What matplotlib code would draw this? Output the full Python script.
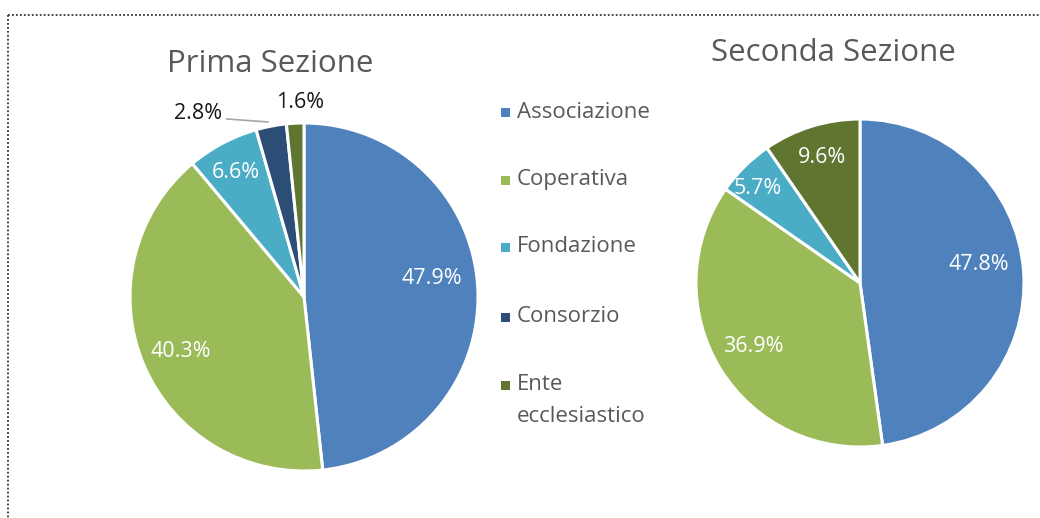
import matplotlib
matplotlib.use("Agg")
import matplotlib.pyplot as plt
from matplotlib.patches import Rectangle
from matplotlib.lines import Line2D
import textwrap

plt.rcParams['font.family'] = ['Open Sans', 'DejaVu Sans']

# ---- data ----
categories = ["Associazione", "Coperativa", "Fondazione", "Consorzio", "Ente ecclesiastico"]
prima_values = [47.9, 40.3, 6.6, 2.8, 1.6]
seconda_values = [47.8, 36.9, 5.7, 0.0, 9.6]
titles = ["Prima Sezione", "Seconda Sezione"]

# ---- style ----
colors = ["#4F81BD", "#9BBB59", "#4BACC6", "#2C4D75", "#5F7530"]
W, H = 1040, 518
fig = plt.figure(figsize=(W / 100, H / 100), dpi=100)

def fx(x):
    return x / W

def fy(y):
    return 1 - y / H

# label positions in units of pie radius (relative to centre), per category
prima_lbl = [(0.736, 0.109), (-0.707, -0.316), (-0.391, 0.713), (-0.609, 1.057), (-0.023, 1.115)]
prima_lbl_color = ["white", "white", "white", "#1a1a1a", "#1a1a1a"]
seconda_lbl = [(0.726, 0.110), (-0.652, -0.390), (-0.622, 0.579), None, (-0.229, 0.768)]
seconda_lbl_color = ["white", "white", "white", "white", "white"]

pies = [
    dict(vals=prima_values, cx=304, cy=297, r=174, lbl=prima_lbl, lc=prima_lbl_color, title=titles[0], tx=270, ty=64),
    dict(vals=seconda_values, cx=860, cy=283, r=164, lbl=seconda_lbl, lc=seconda_lbl_color, title=titles[1], tx=833, ty=53),
]

for p in pies:
    ax = fig.add_axes([fx(p['cx'] - p['r']), fy(p['cy'] + p['r']), 2 * p['r'] / W, 2 * p['r'] / H])
    idx = [i for i, v in enumerate(p['vals']) if v > 0]
    vals = [p['vals'][i] for i in idx]
    cols = [colors[i] for i in idx]
    ax.pie(vals, colors=cols, startangle=90, counterclock=False, radius=1.0,
           wedgeprops=dict(edgecolor="white", linewidth=2.2))
    ax.set_xlim(-1.0, 1.0)
    ax.set_ylim(-1.0, 1.0)
    ax.set_aspect('auto')
    ax.axis('off')
    for i in idx:
        pos = p['lbl'][i]
        if pos is None:
            continue
        ax.text(pos[0], pos[1], f"{p['vals'][i]:.1f}%", ha='center', va='center',
                color=p['lc'][i], fontsize=15.5, clip_on=False)
    fig.text(fx(p['tx']), fy(p['ty']), p['title'], ha='center', va='center',
             fontsize=22.5, color="#595959")

# leader line for 2.8% label (left pie)
axL = fig.axes[0]
axL.add_line(Line2D([-0.443, -0.207], [1.023, 1.006], color="#A6A6A6", lw=1.2, clip_on=False))

# ---- legend (manual) ----
leg_y = [112, 180, 247, 317, 385]
line_gap = 32
for i, cat in enumerate(categories):
    y = leg_y[i]
    fig.patches.append(Rectangle((fx(501), fy(y + 5)), 9 / W, 9 / H, transform=fig.transFigure,
                                 facecolor=colors[i], edgecolor='none'))
    lines = textwrap.wrap(cat, 12, break_long_words=False)
    for k, ln in enumerate(lines):
        fig.text(fx(517), fy(y + k * line_gap), ln, ha='left', va='center', fontsize=16,
                 color="#595959")

# ---- dotted frame ----
fig.add_artist(Line2D([fx(8), fx(8)], [fy(15), 0], transform=fig.transFigure,
                      color="#333333", lw=1.3, linestyle=(0, (1, 1.2))))
fig.add_artist(Line2D([fx(8), 1], [fy(15), fy(15)], transform=fig.transFigure,
                      color="#333333", lw=1.3, linestyle=(0, (1, 1.2))))

fig.savefig("out.png", dpi=100, facecolor="white")
